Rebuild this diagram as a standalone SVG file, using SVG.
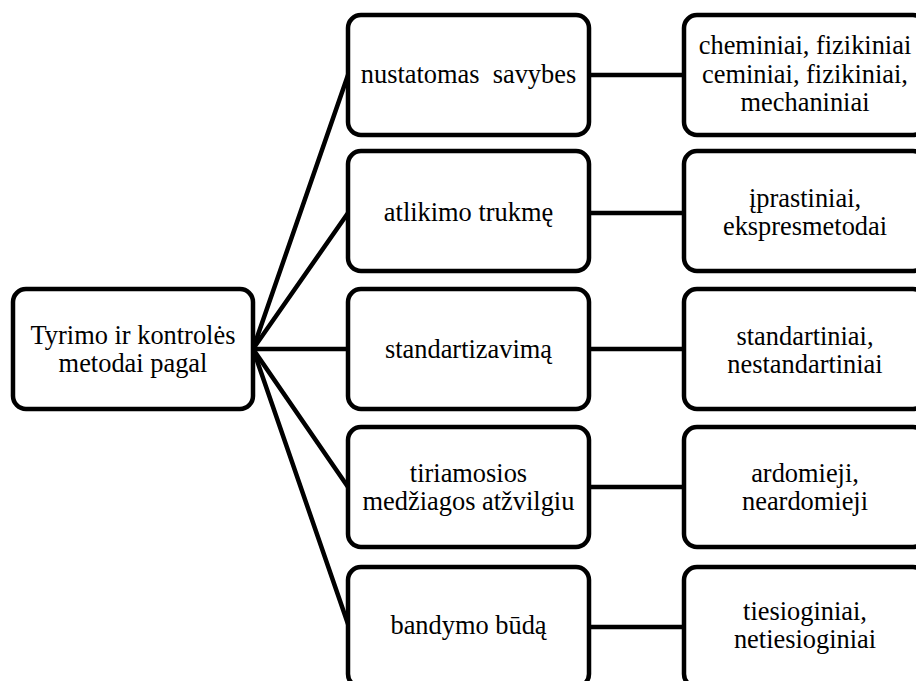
<svg xmlns="http://www.w3.org/2000/svg" width="916" height="681" viewBox="0 0 916 681">
  <style>
    .box { fill: #ffffff; stroke: #000000; stroke-width: 4.5; }
    .link { fill: none; stroke: #000000; stroke-width: 4.5; stroke-linecap: round; }
    text { font-family: 'Liberation Serif', 'Times New Roman', serif; font-size: 26.4px; fill: #000000; text-anchor: middle; }
  </style>
  <rect width="916" height="681" fill="#ffffff"/>

  <!-- connectors: root hub to the middle column, middle column to the right column -->
  <g id="connectors">
    <line class="link" x1="253" y1="349" x2="348" y2="75"/>
    <line class="link" x1="253" y1="349" x2="348" y2="213"/>
    <line class="link" x1="253" y1="349" x2="348" y2="349"/>
    <line class="link" x1="253" y1="349" x2="348" y2="487"/>
    <line class="link" x1="253" y1="349" x2="348" y2="624"/>
    <line class="link" x1="589" y1="75" x2="684" y2="75"/>
    <line class="link" x1="589" y1="213" x2="684" y2="213"/>
    <line class="link" x1="589" y1="349" x2="684" y2="349"/>
    <line class="link" x1="589" y1="487" x2="684" y2="487"/>
    <line class="link" x1="589" y1="627" x2="684" y2="627"/>
  </g>

  <!-- root node -->
  <g id="root">
    <rect class="box" x="13" y="289" width="240" height="120" rx="13"/>
    <text x="133" y="344">Tyrimo ir kontrolės</text>
    <text x="133" y="372">metodai pagal</text>
  </g>

  <!-- middle column: classification criteria -->
  <g id="savybes">
    <rect class="box" x="348" y="15" width="241" height="120" rx="13"/>
    <text x="468.5" y="83" xml:space="preserve">nustatomas  savybes</text>
  </g>
  <g id="trukme">
    <rect class="box" x="348" y="151" width="241" height="120" rx="13"/>
    <text x="468.5" y="221">atlikimo trukmę</text>
  </g>
  <g id="standartizavimas">
    <rect class="box" x="348" y="289" width="241" height="120" rx="13"/>
    <text x="468.5" y="358">standartizavimą</text>
  </g>
  <g id="medziaga">
    <rect class="box" x="348" y="427" width="241" height="120" rx="13"/>
    <text x="468.5" y="481.5">tiriamosios</text>
    <text x="468.5" y="509.5">medžiagos atžvilgiu</text>
  </g>
  <g id="budas">
    <rect class="box" x="348" y="567" width="241" height="120" rx="13"/>
    <text x="468.5" y="634">bandymo būdą</text>
  </g>

  <!-- right column: method types -->
  <g id="savybes-tipai">
    <rect class="box" x="684" y="15" width="242" height="120" rx="13"/>
    <text x="805" y="54">cheminiai, fizikiniai</text>
    <text x="805" y="82.5">ceminiai, fizikiniai,</text>
    <text x="805" y="111">mechaniniai</text>
  </g>
  <g id="trukme-tipai">
    <rect class="box" x="684" y="151" width="242" height="120" rx="13"/>
    <text x="805" y="207">įprastiniai,</text>
    <text x="805" y="235">ekspresmetodai</text>
  </g>
  <g id="standartizavimas-tipai">
    <rect class="box" x="684" y="289" width="242" height="120" rx="13"/>
    <text x="805" y="345">standartiniai,</text>
    <text x="805" y="372.5">nestandartiniai</text>
  </g>
  <g id="medziaga-tipai">
    <rect class="box" x="684" y="427" width="242" height="120" rx="13"/>
    <text x="805" y="482">ardomieji,</text>
    <text x="805" y="510">neardomieji</text>
  </g>
  <g id="budas-tipai">
    <rect class="box" x="684" y="567" width="242" height="120" rx="13"/>
    <text x="805" y="620">tiesioginiai,</text>
    <text x="805" y="648">netiesioginiai</text>
  </g>
</svg>
